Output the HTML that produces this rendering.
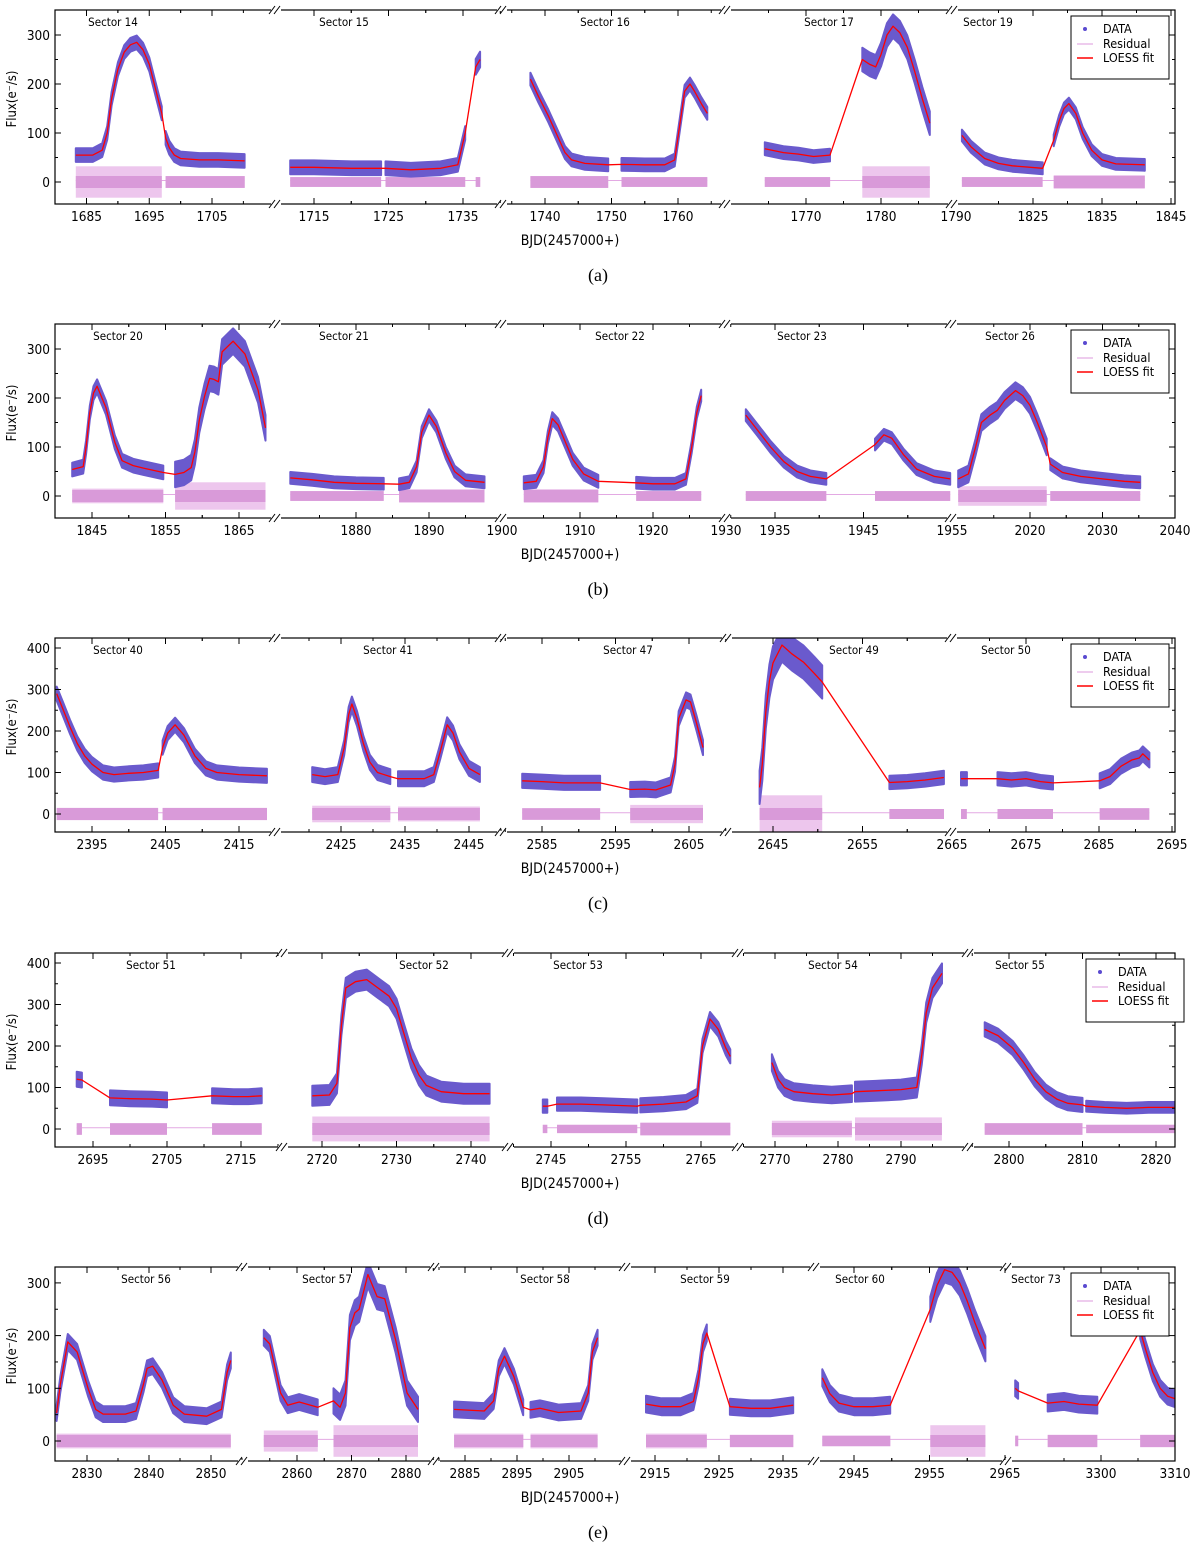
<!DOCTYPE html>
<html><head><meta charset="utf-8"><style>
html,body{margin:0;padding:0;background:#fff;}
svg{display:block;}
text{font-family:"DejaVu Sans Condensed","DejaVu Sans","Liberation Sans",sans-serif;fill:#000;}
.serif{font-family:"Liberation Serif",serif;}
</style></head><body>
<svg id="chart" width="1200" height="1550" viewBox="0 0 1200 1550" xmlns="http://www.w3.org/2000/svg"></svg>
<script>
// ---------- data (BJD-2457000, flux e-/s) ----------
const S14=[[[1683.3,55],[1686,55],[1687.5,65],[1688.3,100],[1689,170],[1690,230],[1691,265],[1692,280],[1693,285],[1694,270],[1695,240],[1696,190],[1697,140]],[[1697.6,90],[1698.2,70],[1699,55],[1700,48],[1703,45],[1706,45],[1710.2,43]]];
const S14_sc=[14,14], S14_res=[32,12];
const S15=[[[1711.8,30],[1715,30],[1720,28],[1724,28]],[[1724.6,28],[1728,25],[1732,28],[1734.3,35],[1735.3,100]],[[1736.7,235],[1737.3,250]]];
const S15_sc=[14,14,16], S15_res=[10,10,10];
const S16=[[[1737.8,210],[1739,175],[1740.5,135],[1742,90],[1743,60],[1744,45],[1746,38],[1749.5,35]],[[1751.5,36],[1755,35],[1758,35],[1759.5,45],[1760.3,120],[1761,185],[1761.8,200],[1762.5,185],[1763.5,160],[1764.4,140]]];
const S16_sc=[13,13], S16_res=[12,10];
const S17=[[[1764.5,68],[1767,60],[1769,57],[1771,52],[1773.2,55]],[[1777.5,250],[1778.5,240],[1779.3,235],[1780,260],[1780.8,300],[1781.6,318],[1782.5,305],[1783.5,275],[1784.5,225],[1785.5,170],[1786.5,120]]];
const S17_sc=[13,24], S17_res=[10,32];
const S19=[[[1814.7,95],[1816,72],[1818,48],[1820,38],[1822,33],[1826.4,28]],[[1828,85],[1828.8,125],[1829.5,150],[1830.2,160],[1831.2,140],[1832.2,100],[1833.5,65],[1835,45],[1837,37],[1841.2,35]]];
const S19_sc=[12,12], S19_res=[10,14];

const S20=[[[1842.3,54],[1843.8,60],[1844.2,100],[1844.7,170],[1845.2,210],[1845.7,224],[1846.9,180],[1848.1,110],[1849.1,72],[1850.6,62],[1852,57],[1854.7,48]],[[1856.3,44],[1857.5,48],[1858.5,58],[1859,90],[1859.6,155],[1860.3,203],[1861,240],[1861.6,238],[1862.2,233],[1862.7,294],[1864.2,316],[1865.8,290],[1867.6,216],[1868.6,139]]];
const S20_sc=[14,26], S20_res=[15,28];
const S21=[[[1871,37],[1874,33],[1877,28],[1880,26],[1883.8,25]],[[1885.9,24],[1887.3,28],[1888.3,60],[1889,130],[1890,165],[1891,142],[1892.3,88],[1893.5,50],[1895,32],[1897.6,28]]];
const S21_sc=[12,12], S21_res=[10,14];
const S22=[[[1902.3,27],[1904,30],[1905,60],[1905.6,120],[1906.2,158],[1907,145],[1908,110],[1909,75],[1910.5,45],[1912.5,30]],[[1917.7,27],[1920,25],[1923,25],[1924.5,35],[1925.3,100],[1926,170],[1926.6,205]]];
const S22_sc=[13,12], S22_res=[14,10];
const S23=[[[1931.7,165],[1933,135],[1934.5,100],[1936,70],[1937.5,50],[1939,40],[1940.8,35]],[[1946.3,105],[1947.3,125],[1948.2,118],[1949.5,85],[1951,55],[1953,40],[1954.8,35]]];
const S23_sc=[12,12], S23_res=[10,10];
const S26=[[[2010.1,35],[2011.5,45],[2012.5,100],[2013.3,150],[2014.5,165],[2015.5,175],[2016.5,195],[2018,215],[2019,205],[2020,185],[2021,150],[2022.3,100]],[[2022.8,65],[2024.5,48],[2027,40],[2030,35],[2033,30],[2035.2,28]]];
const S26_sc=[17,12], S26_res=[20,10];

const S40=[[[2390.2,290],[2391,255],[2392,210],[2393,170],[2394,140],[2395,120],[2396.5,100],[2398,95],[2400,98],[2402,100],[2404,105]],[[2404.6,160],[2405.3,195],[2406.3,215],[2407.5,190],[2409,140],[2410.5,110],[2412,100],[2415,95],[2418.8,92]]];
const S40_sc=[17,17], S40_res=[15,15];
const S41=[[[2420.5,95],[2422.5,90],[2424.5,95],[2425.5,160],[2426.2,240],[2426.7,265],[2427.5,230],[2428.5,170],[2429.5,125],[2430.7,100],[2432.7,90]],[[2433.9,85],[2436,85],[2438,85],[2439.5,95],[2440.5,150],[2441.6,215],[2442.5,195],[2443.5,150],[2445,110],[2446.7,95]]];
const S41_sc=[18,18], S41_res=[20,18];
const S47=[[[2582.3,80],[2585,78],[2588,75],[2592.9,75]],[[2597,59],[2599,60],[2600.5,58],[2602.5,70],[2603.1,120],[2603.6,230],[2604.6,275],[2605.2,270],[2606,220],[2606.9,160]]];
const S47_sc=[17,18], S47_res=[14,22];
const S49=[[[2643.5,64],[2643.8,120],[2644.2,246],[2644.6,320],[2645,364],[2646,407],[2647.1,386],[2648.4,366],[2649.6,339],[2650.5,318]],[[2658,76],[2660,78],[2662,82],[2664.1,88]]];
const S49_sc=[40,16], S49_res=[45,12];
const S50=[[[2666.1,85],[2666.9,85]],[[2671.1,85],[2673,82],[2675,85],[2677,78],[2678.7,75]],[[2685.1,80],[2686.5,90],[2688,115],[2689.5,130],[2690.5,135],[2691,145],[2691.9,130]]];
const S50_sc=[16,16,18], S50_res=[12,12,14];

const S51=[[[2692.8,120],[2693.5,118]],[[2697.3,75],[2700,73],[2703,72],[2705,70]],[[2711.1,80],[2714,78],[2716,78],[2717.8,80]]];
const S51_sc=[18,18,18], S51_res=[14,14,14];
const S52=[[[2718.7,80],[2721,82],[2722,110],[2722.6,250],[2723.2,340],[2724.5,355],[2726,360],[2727.5,340],[2729,320],[2730,290],[2731,230],[2732,170],[2733,130],[2734,105],[2736,90],[2739,85],[2742.5,85]]];
const S52_sc=[24], S52_res=[30];
const S53=[[[2743.9,55],[2744.5,55]],[[2745.8,60],[2749,60],[2752,58],[2756.5,55]],[[2756.9,57],[2760,60],[2763,65],[2764.5,80],[2765.2,200],[2766.2,265],[2767.3,240],[2768.3,195],[2768.9,175]]];
const S53_sc=[16,16,17], S53_res=[10,10,16];
const S54=[[[2769.5,160],[2770.5,120],[2771.5,100],[2773,90],[2776,85],[2779,82],[2782.2,85]],[[2782.7,90],[2786,92],[2790,95],[2792.5,100],[2793.3,180],[2794,280],[2795,340],[2796.5,375]]];
const S54_sc=[20,24], S54_res=[20,28];
const S55=[[[2796.7,240],[2798.5,225],[2800.5,195],[2802,160],[2803.5,120],[2805,90],[2806.5,72],[2808,62],[2810,58]],[[2810.5,55],[2813,52],[2816,50],[2819,52],[2822.5,52]]];
const S55_sc=[17,13], S55_res=[14,10];

const S56=[[[2825.1,53],[2825.7,107],[2826.9,188],[2828.4,169],[2830.2,99],[2831.4,60],[2832.6,51],[2836.2,51],[2837.9,57],[2839.1,107],[2839.7,138],[2840.6,142],[2842.1,116],[2843.9,68],[2845.7,51],[2849.3,47],[2851.7,60],[2852.6,130],[2853.2,153]]];
const S56_sc=[15], S56_res=[14];
const S57=[[[2853.9,196],[2855,184],[2857,91],[2858.3,68],[2860.4,74],[2863.8,64]],[[2866.7,76],[2867.9,64],[2868.9,91],[2869.7,215],[2870.6,243],[2871.4,250],[2873,316],[2874.7,274],[2876.1,270],[2878.1,192],[2880.2,91],[2882.2,60]]];
const S57_sc=[15,24], S57_res=[20,30];
const S58=[[[2882.9,60],[2888.7,57],[2890.5,76],[2891.5,138],[2892.6,161],[2894.4,122],[2896.2,64]],[[2897.6,59],[2899.4,62],[2903,54],[2907.3,57],[2908.7,91],[2909.5,169],[2910.5,196]]];
const S58_sc=[15,15], S58_res=[14,14];
const S59=[[[2913.6,70],[2916,65],[2919,65],[2921,75],[2921.8,120],[2922.5,185],[2923.1,205]],[[2926.7,65],[2930,62],[2933,62],[2936.6,68]]];
const S59_sc=[16,15], S59_res=[14,12];
const S60=[[[2940.8,120],[2941.8,90],[2943,72],[2945,65],[2947.5,65],[2949.8,68]],[[2955.1,250],[2956,295],[2957,325],[2958,320],[2959,300],[2960,265],[2961,225],[2962.4,175]]];
const S60_sc=[16,24], S60_res=[10,30];
const S73=[[[3288.4,100],[3288.8,95]],[[3292.8,72],[3295,75],[3297,70],[3299.5,68]],[[3305.3,210],[3306,175],[3307,130],[3308,100],[3309,85],[3310.5,78]]];
const S73_sc=[15,16,16], S73_res=[10,12,12];

// tick labels
const ticksA=[[1685,1695,1705],[1715,1725,1735],[1740,1750,1760],[1770,1780,1790],[1825,1835,1845]];
const ticksB=[[1845,1855,1865],[1880,1890,1900],[1910,1920,1930],[1935,1945,1955],[2020,2030,2040]];
const ticksC=[[2395,2405,2415],[2425,2435,2445],[2585,2595,2605],[2645,2655,2665],[2675,2685,2695]];
const ticksD=[[2695,2705,2715],[2720,2730,2740],[2745,2755,2765],[2770,2780,2790],[2800,2810,2820]];
const ticksE=[[2830,2840,2850],[2860,2870,2880],[2885,2895,2905],[2915,2925,2935],[2945,2955,2965],[3300,3310]];
const yTicks3=[0,100,200,300], yTicks4=[0,100,200,300,400];

// ---------- layout ----------
const PANELS=[
 {top:10,y0:172,k:0.49,yt:yTicks3,tag:'(a)',lx:1071,ticks:ticksA,
  subs:[[55,276,1685,86.5,1705,212],[276,502,1715,314,1735,463],[502,726,1740,545,1760,678],[726,953,1770,806,1790,956],[953,1175,1825,1033,1845,1171]],
  sectors:[['Sector 14',0,113,S14,S14_sc,S14_res],['Sector 15',1,344,S15,S15_sc,S15_res],['Sector 16',2,605,S16,S16_sc,S16_res],['Sector 17',3,829,S17,S17_sc,S17_res],['Sector 19',4,988,S19,S19_sc,S19_res]]},
 {top:324,y0:172,k:0.49,yt:yTicks3,tag:'(b)',lx:1071,ticks:ticksB,
  subs:[[55,276,1845,92,1865,239],[276,502,1880,356,1900,502],[502,726,1910,580,1930,726],[726,952,1935,775,1955,952],[952,1175,2020,1030,2040,1175]],
  sectors:[['Sector 20',0,118,S20,S20_sc,S20_res],['Sector 21',1,344,S21,S21_sc,S21_res],['Sector 22',2,620,S22,S22_sc,S22_res],['Sector 23',3,802,S23,S23_sc,S23_res],['Sector 26',4,1010,S26,S26_sc,S26_res]]},
 {top:638,y0:176,k:0.415,yt:yTicks4,tag:'(c)',lx:1071,ticks:ticksC,
  subs:[[55,276,2395,92,2415,239],[276,502,2425,341,2445,469],[502,727,2585,542,2605,689],[727,952,2645,773,2665,952],[952,1175,2675,1026,2695,1172]],
  sectors:[['Sector 40',0,118,S40,S40_sc,S40_res],['Sector 41',1,388,S41,S41_sc,S41_res],['Sector 47',2,628,S47,S47_sc,S47_res],['Sector 49',3,854,S49,S49_sc,S49_res],['Sector 50',4,1006,S50,S50_sc,S50_res]]},
 {top:953,y0:176,k:0.415,yt:yTicks4,tag:'(d)',lx:1086,ticks:ticksD,
  subs:[[55,283,2695,93,2715,241],[283,509,2720,322,2740,471],[509,739,2745,551,2765,701],[739,969,2770,775,2790,901],[969,1175,2800,1009,2820,1156]],
  sectors:[['Sector 51',0,151,S51,S51_sc,S51_res],['Sector 52',1,424,S52,S52_sc,S52_res],['Sector 53',2,578,S53,S53_sc,S53_res],['Sector 54',3,833,S54,S54_sc,S54_res],['Sector 55',4,1020,S55,S55_sc,S55_res]]},
 {top:1267,y0:174,k:0.527,yt:yTicks3,tag:'(e)',lx:1071,ticks:ticksE,
  subs:[[55,243,2830,87,2850,211],[243,435,2860,297,2880,406],[435,626,2885,465,2905,569],[626,815,2915,655,2935,783],[815,1007,2945,854,2965,1005],[1007,1175,3300,1101,3310,1175]],
  sectors:[['Sector 56',0,146,S56,S56_sc,S56_res],['Sector 57',1,327,S57,S57_sc,S57_res],['Sector 58',2,545,S58,S58_sc,S58_res],['Sector 59',3,705,S59,S59_sc,S59_res],['Sector 60',4,860,S60,S60_sc,S60_res],['Sector 73',5,1036,S73,S73_sc,S73_res]]}
];
const H=194, XL=55, XR=1175;
const NS='http://www.w3.org/2000/svg';
const svg=document.getElementById('chart');
function mk(tag,attrs,parent){const e=document.createElementNS(NS,tag);for(const a in attrs)e.setAttribute(a,attrs[a]);(parent||svg).appendChild(e);return e;}
const defs=mk('defs',{});

PANELS.forEach((P,pi)=>{
  const g=mk('g',{});
  
  
  const top=P.top;
  const yS=f=>top+P.y0-f*P.k;
  P.subs.forEach((s,si)=>{
    const cp=mk('clipPath',{id:'c'+pi+'_'+si},defs);
    mk('rect',{x:s[0],y:top,width:s[1]-s[0],height:H},cp);
  });
  const xS=(si,t)=>{const s=P.subs[si];return s[3]+(t-s[2])*(s[5]-s[3])/(s[4]-s[2]);};
  P.sectors.forEach(sec=>{
    const [name,si,lx,blocks,sc,res]=sec;
    const sg=mk('g',{'clip-path':'url(#c'+pi+'_'+si+')'},g);
    
    
    const rl=mk('polyline',{points:blocks.map(b=>xS(si,b[0][0]).toFixed(1)+','+yS(3).toFixed(1)+' '+xS(si,b[b.length-1][0]).toFixed(1)+','+yS(3).toFixed(1)).join(' '),fill:'none',stroke:'#e3a9e3','stroke-width':1},sg);
    
    
    blocks.forEach((b,bi)=>{
      const x0=xS(si,b[0][0]), x1=xS(si,b[b.length-1][0]);
      const a=res[bi]*P.k;
      const rr=mk('rect',{x:x0.toFixed(1),y:(yS(0)-a).toFixed(1),width:Math.max(1.5,x1-x0).toFixed(1),height:(2*a).toFixed(1),fill:'#e8b8e8',opacity:0.8},sg);
      
      
      const rc=mk('rect',{x:x0.toFixed(1),y:(yS(0)-Math.min(a,6)).toFixed(1),width:Math.max(1.5,x1-x0).toFixed(1),height:(2*Math.min(a,6)).toFixed(1),fill:'#d99ad9'},sg);
      
      
    });
    blocks.forEach((b,bi)=>{
      const up=b.map(p=>xS(si,p[0]).toFixed(1)+','+yS(p[1]+sc[bi]).toFixed(1));
      const dn=b.slice().reverse().map(p=>xS(si,p[0]).toFixed(1)+','+yS(p[1]-sc[bi]).toFixed(1));
      const band=mk('polygon',{points:up.concat(dn).join(' '),fill:'#6a5acd',stroke:'#6a5acd','stroke-width':2,'stroke-linejoin':'round'},sg);
      
      
    });
    const all=[].concat(...blocks);
    const lo=mk('polyline',{points:all.map(p=>xS(si,p[0]).toFixed(1)+','+yS(p[1]).toFixed(1)).join(' '),fill:'none',stroke:'#ff0000','stroke-width':1.3,'stroke-linejoin':'round'},sg);
    
    
    const t=mk('text',{x:lx,y:top+16,'font-size':11.5,'text-anchor':'middle'},g);
    t.textContent=name;
    
    
  });
  const fr=mk('rect',{x:XL,y:top,width:XR-XL,height:H,fill:'none',stroke:'#000','stroke-width':1.2},g);
  
  
  P.subs.forEach((s,si)=>{
    const tl=P.ticks[si];
    const all=[];
    tl.forEach(v=>{all.push([v,1]);all.push([v+5,0]);all.push([v-5,0]);});
    all.forEach(([v,maj])=>{
      const x=xS(si,v);
      if(x<s[0]+2||x>s[1]-1)return;
      const L=maj?6:3;
      mk('line',{x1:x,x2:x,y1:top+H,y2:top+H-L,stroke:'#000','stroke-width':1},g);
      mk('line',{x1:x,x2:x,y1:top,y2:top+L,stroke:'#000','stroke-width':1},g);
    });
    tl.forEach(v=>{
      const x=xS(si,v);
      const t=mk('text',{x:x.toFixed(1),y:top+H+17,'font-size':13.5,'text-anchor':'middle'},g);
      t.textContent=v;
      
      
    });
    if(si<P.subs.length-1){
      [top+H,top].forEach(yb=>{
        mk('rect',{x:s[1]-5,y:yb-1,width:10,height:2,fill:'#fff'},g);
        mk('line',{x1:s[1]-7,y1:yb+4,x2:s[1]-1,y2:yb-4,stroke:'#000','stroke-width':1},g);
        mk('line',{x1:s[1]-2,y1:yb+4,x2:s[1]+4,y2:yb-4,stroke:'#000','stroke-width':1},g);
      });
    }
  });
  const ymax=P.yt[P.yt.length-1];
  for(let v=0;v<=ymax+50;v+=50){
    const y=yS(v); if(y<top+2)continue;
    const L=(v%100===0)?6:3;
    mk('line',{x1:XL,x2:XL+L,y1:y,y2:y,stroke:'#000','stroke-width':1},g);
    mk('line',{x1:XR,x2:XR-L,y1:y,y2:y,stroke:'#000','stroke-width':1},g);
  }
  P.yt.forEach(v=>{
    const t=mk('text',{x:50,y:(yS(v)+5).toFixed(1),'font-size':13.5,'text-anchor':'end'},g);
    t.textContent=v;
    
    
  });
  const yl=mk('text',{x:0,y:0,'font-size':13,'text-anchor':'middle',transform:'translate(16,'+(top+H/2-8)+') rotate(-90)'},g);
  yl.textContent='Flux(e\u207B/s)';
  
  
  const xl=mk('text',{x:570,y:top+235,'font-size':14,'text-anchor':'middle'},g);
  xl.textContent='BJD(2457000+)';
  
  
  const tg=mk('text',{x:598,y:top+271,'font-size':18,'text-anchor':'middle','class':'serif'},g);
  tg.textContent=P.tag;
  
  
  const lg=mk('g',{},g);
  
  
  const lx=P.lx, ly=top+6;
  mk('rect',{x:lx,y:ly,width:98,height:63,fill:'#fff',stroke:'#000','stroke-width':1},lg);
  const e1=mk('circle',{cx:lx+14,cy:ly+13,r:2,fill:'#5a4ad0'},lg);
  
  
  const e2=mk('line',{x1:lx+6,x2:lx+22,y1:ly+28,y2:ly+28,stroke:'#e3a9e3','stroke-width':1.2},lg);
  
  
  const e3=mk('line',{x1:lx+6,x2:lx+22,y1:ly+42,y2:ly+42,stroke:'#ff0000','stroke-width':1.5},lg);
  
  
  [['DATA',17],['Residual',32],['LOESS fit',46]].forEach(([s,dy])=>{
    const t=mk('text',{x:lx+32,y:ly+dy,'font-size':12.5},lg);
    t.textContent=s;
    
    
  });
});
</script>
</body></html>
